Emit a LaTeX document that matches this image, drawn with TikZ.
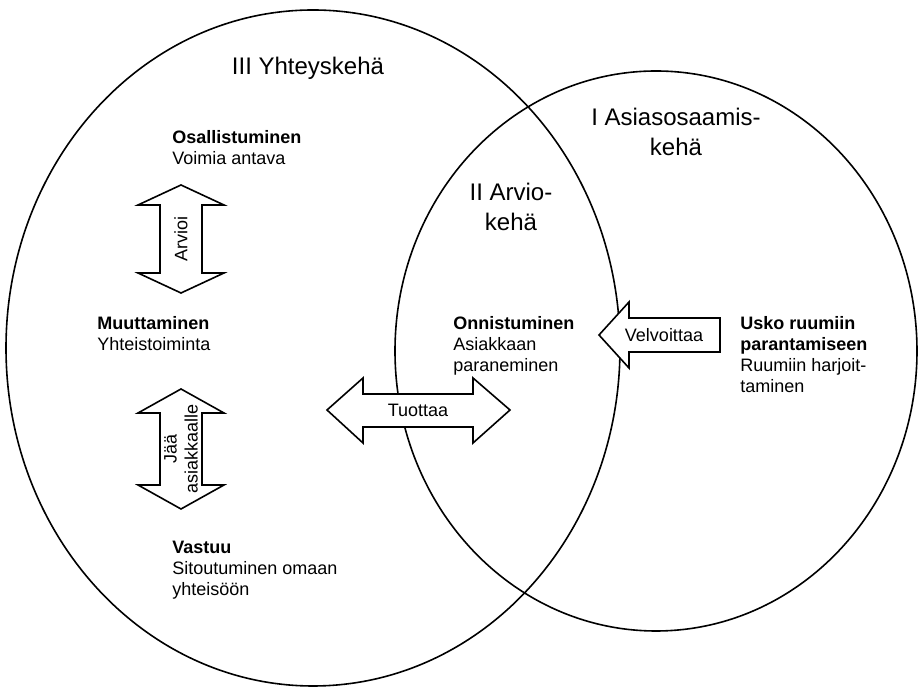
\documentclass[tikz,border=0pt]{standalone}
\usepackage{fontspec}
\setmainfont{Liberation Sans}
\usepackage{tikz}
\usetikzlibrary{calc}
\tikzset{
  kehatext/.style={font=\fontsize{12}{15}\selectfont, align=center, inner sep=0pt},
  lohko/.style={font=\fontsize{9}{10.5}\selectfont, align=left, anchor=north west, inner sep=0pt},
  nuoliteksti/.style={font=\fontsize{9}{10.5}\selectfont, align=center, inner sep=0pt}
}
\newcommand{\vdarrow}[4]{ \draw[thick,fill=white] ( #1 , #2 ) -- ( {#1+43} , {#2+#4} ) -- ( {#1+21} , {#2+#4} ) -- ( {#1+21} , {#3-#4} ) -- ( {#1+43} , {#3-#4} ) -- ( #1 , #3 ) -- ( {#1-43} , {#3-#4} ) -- ( {#1-21} , {#3-#4} ) -- ( {#1-21} , {#2+#4} ) -- ( {#1-43} , {#2+#4} ) -- cycle;}
\newcommand{\lohkoteksti}[4]{\node[lohko] (#1) at ( #2 , #3 ) {#4};}

\begin{document}
\begin{tikzpicture}[x=0.5pt,y=-0.5pt]
\useasboundingbox (0,0) rectangle (918,688);
% the two ellipses
\draw[thick] (313,348) ellipse [x radius=153.5pt, y radius=169pt];
\draw[thick] (656,351) ellipse [x radius=130.5pt, y radius=140pt];
% ring names
\node[kehatext] (yhteys) at (308,68) {III Yhteyskehä};
\node[kehatext] (asia) at (676,132) {I Asiasosaamis-\\kehä};
\node[kehatext] (arvio) at (511,207) {II Arvio-\\kehä};
% block arrows
\vdarrow{181}{185}{293}{20}
\vdarrow{181}{389}{509}{24}
\draw[thick,fill=white] (327,410) -- (363,378) -- (363,394) -- (473,394) -- (473,378) -- (510,410)
  -- (473,443) -- (473,427) -- (363,427) -- (363,443) -- cycle;
\draw[thick,fill=white] (599,335) -- (629,302) -- (629,318) -- (720,318) -- (720,352) -- (629,352)
  -- (629,368) -- cycle;
% arrow labels
\node[nuoliteksti, rotate=90] (arvioi) at (181,239) {Arvioi};
\node[nuoliteksti, rotate=90] (jaa) at (181,449) {Jää\\asiakkaalle};
\node[nuoliteksti] (tuottaa) at (418,410) {Tuottaa};
\node[nuoliteksti] (velvoit) at (664,335) {Velvoittaa};
% text blocks
\lohkoteksti{osall}{172}{130}{\textbf{Osallistuminen}\\Voimia antava}
\lohkoteksti{muutt}{97}{316}{\textbf{Muuttaminen}\\Yhteistoiminta}
\lohkoteksti{vastuu}{172}{541}{\textbf{Vastuu}\\Sitoutuminen omaan\\yhteisöön}
\lohkoteksti{onnist}{453}{316}{\textbf{Onnistuminen}\\Asiakkaan\\paraneminen}
\lohkoteksti{usko}{740}{316}{\textbf{Usko ruumiin}\\\textbf{parantamiseen}\\Ruumiin harjoit-\\taminen}
\end{tikzpicture}
\end{document}
